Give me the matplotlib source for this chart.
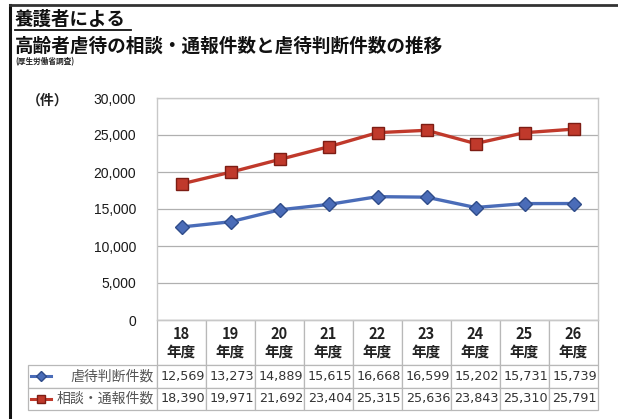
"""養護者による高齢者虐待の相談・通報件数と虐待判断件数の推移 (line chart + data table)."""
import matplotlib
import numpy as np

matplotlib.use("Agg")
import matplotlib.pyplot as plt
from matplotlib.lines import Line2D

plt.rcParams["font.family"] = ["Noto Sans CJK JP", "DejaVu Sans"]

years = ["18", "19", "20", "21", "22", "23", "24", "25", "26"]
judged = [12569, 13273, 14889, 15615, 16668, 16599, 15202, 15731, 15739]
consult = [18390, 19971, 21692, 23404, 25315, 25636, 23843, 25310, 25791]
series_labels = ["虐待判断件数", "相談・通報件数"]
yticks = [0, 5000, 10000, 15000, 20000, 25000, 30000]

BLUE = "#4a6cb8"
RED = "#c0392b"
W, H = 618, 419

fig = plt.figure(figsize=(W / 100, H / 100), dpi=100)
fig.patch.set_facecolor("white")

# plot area in pixel terms
L, R, T, B = 157, 598, 98, 320
ax = fig.add_axes([L / W, 1 - B / H, (R - L) / W, (B - T) / H])

x = np.arange(len(years))
ax.plot(x, judged, color=BLUE, lw=2.4, marker="D", ms=7.5, mfc=BLUE, mec="#2f4c8a", zorder=3)
ax.plot(x, consult, color=RED, lw=2.4, marker="s", ms=8, mfc=RED, mec="#7d1d14", zorder=3)
ax.set_xlim(-0.5, len(years) - 0.5)
ax.set_ylim(0, 30000)
ax.set_yticks(yticks)
ax.set_yticklabels([f"{v:,}" for v in yticks], fontsize=10, family=["Liberation Sans"],
                   color="#1a1a1a")
ax.tick_params(axis="y", length=0, pad=15)
ax.set_xticks([])
ax.grid(axis="y", color="#b0b0b0", lw=0.9)
for side, sp in ax.spines.items():
    sp.set_color("#c8c8c8")
    sp.set_linewidth(1.0)

# data table under the plot
lab_w, col_w = L - 28, (R - L) / len(years)
hdr_h, row_h = 45, 22.5
cells = [[""] + [f"{v:,}" for v in judged], [""] + [f"{v:,}" for v in consult]]
headers = [""] + [f"{y}\n年度" for y in years]
tbl_h = hdr_h + 2 * row_h
tbl = ax.table(cellText=cells, colLabels=headers,
               colWidths=[lab_w] + [col_w] * len(years),
               bbox=[(28 - L) / (R - L), -tbl_h / (B - T), (R - 28) / (R - L), tbl_h / (B - T)])
tbl.auto_set_font_size(False)
for (r, c), cell in tbl.get_celld().items():
    cell.set_edgecolor("#b8b8b8")
    cell.set_linewidth(0.9)
    cell.set_height(hdr_h if r == 0 else row_h)
    txt = cell.get_text()
    if r == 0:
        txt.set_fontsize(10.5)
        txt.set_fontweight("bold")
        txt.set_linespacing(1.1)
        txt.set_color("#222222")
        if c == 0:
            cell.visible_edges = ""
    else:
        txt.set_fontsize(9.2)
        txt.set_family(["DejaVu Sans"])
        txt.set_color("#333333")
        cell.PAD = 0.02

# series labels with legend keys in the first column
for i, (lab, col, mk, mec) in enumerate(zip(series_labels, [BLUE, RED], ["D", "s"],
                                             ["#2f4c8a", "#7d1d14"])):
    yc = B + hdr_h + row_h * (i + 0.5)
    fy = 1 - yc / H
    fig.add_artist(Line2D([31 / W, 51 / W], [fy, fy], color=col, lw=2.2))
    fig.add_artist(Line2D([41 / W], [fy], color=col, marker=mk, ms=5.5, mfc=col, mec=mec))
    fig.text(154 / W, fy, lab, ha="right", va="center", fontsize=10, color="#555555")

# titles
fig.text(15 / W, 1 - 19 / H, "養護者による", fontsize=13.3, fontweight="bold", va="center", color="#111111")
fig.add_artist(Line2D([15 / W, 131 / W], [1 - 30 / H] * 2, color="#111111", lw=1.3))
fig.text(15 / W, 1 - 46 / H, "高齢者虐待の相談・通報件数と虐待判断件数の推移", fontsize=13.4,
         fontweight="bold", va="center", color="#111111")
fig.text(15 / W, 1 - 62 / H, "(厚生労働省調査)", fontsize=5.5, fontweight="bold", va="center",
         color="#222222")
fig.text(27 / W, 1 - 101 / H, "（件）", fontsize=10, fontweight="bold", va="center", color="#222222")

# outer frame (left and top edges)
fig.add_artist(Line2D([9.5 / W, 9.5 / W], [0, 1 - 5 / H], color="#111111", lw=2.2))
fig.add_artist(Line2D([9.5 / W, 1], [1 - 5 / H] * 2, color="#333333", lw=2.0))

fig.savefig("out.png", dpi=100)
